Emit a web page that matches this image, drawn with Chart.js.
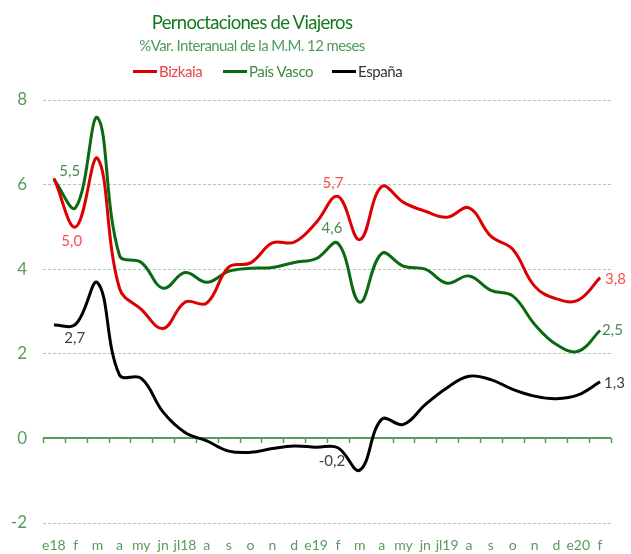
<!DOCTYPE html>
<html>
<head>
<meta charset="utf-8">
<script src="https://cdn.jsdelivr.net/npm/chart.js@4/dist/chart.umd.min.js"></script>
<style>
  body { margin: 0; background: #fff; }
  #wrap { position: relative; width: 631px; height: 554px; font-family: Lato, sans-serif; }
  #chart { position: absolute; left: 0; top: 0; }
  .hd { position: absolute; white-space: nowrap; transform: translateX(-50%); }
  #title { left: 252px; top: 11px; font-size: 18.5px; color: #137a1e; letter-spacing: -0.7px; }
  #subtitle { left: 252px; top: 36px; font-size: 15px; color: #4f9a5a; letter-spacing: -0.6px; }
  .lg { position: absolute; top: 62px; font-size: 15px; letter-spacing: -0.4px; white-space: nowrap; }
  .lg i { display: inline-block; width: 24px; height: 3px; margin-right: 2px; vertical-align: 4px; }
</style>
</head>
<body>
<div id="wrap">
  <canvas id="chart" width="631" height="554"></canvas>
  <div class="hd" id="title">Pernoctaciones de Viajeros</div>
  <div class="hd" id="subtitle">%Var. Interanual de la M.M. 12 meses</div>
  <div class="lg" style="left:133px;color:#e84545"><i style="background:#dd0000"></i>Bizkaia</div>
  <div class="lg" style="left:223px;color:#3f8a45"><i style="background:#0a6a12"></i>País Vasco</div>
  <div class="lg" style="left:332px;color:#333"><i style="background:#000"></i>España</div>
</div>
<script>
const months = ['e18','f','m','a','my','jn','jl18','a','s','o','n','d','e19','f','m','a','my','jn','jl19','a','s','o','n','d','e20','f'];

const bizkaia = [6.15, 5.0, 6.62, 3.55, 3.05, 2.6, 3.22, 3.2, 4.05, 4.15, 4.62, 4.64, 5.1, 5.72, 4.7, 5.95, 5.58, 5.37, 5.23, 5.45, 4.78, 4.47, 3.6, 3.3, 3.27, 3.8];
const paisVasco = [6.12, 5.46, 7.58, 4.33, 4.16, 3.55, 3.92, 3.69, 3.95, 4.02, 4.04, 4.16, 4.25, 4.61, 3.22, 4.37, 4.07, 4.0, 3.67, 3.84, 3.5, 3.37, 2.7, 2.22, 2.06, 2.55];
const espana = [2.68, 2.7, 3.68, 1.5, 1.42, 0.62, 0.14, -0.06, -0.3, -0.33, -0.24, -0.18, -0.21, -0.22, -0.75, 0.45, 0.33, 0.8, 1.2, 1.47, 1.39, 1.16, 1.0, 0.94, 1.03, 1.34];

// etiquetas de valor: serie, indice, texto
const valueLabels = [
  { ds: 1, i: 1, text: '5,5', dx: -6, dy: -36, color: '#4a8a50', align: 'center' },
  { ds: 0, i: 1, text: '5,0', dx: -4, dy: 14, color: '#ff4d4d', align: 'center' },
  { ds: 2, i: 1, text: '2,7', dx: -1, dy: 14, color: '#404040', align: 'center' },
  { ds: 0, i: 13, text: '5,7', dx: -5, dy: -13, color: '#ff4d4d', align: 'center' },
  { ds: 1, i: 13, text: '4,6', dx: -6, dy: -15, color: '#4a8a50', align: 'center' },
  { ds: 2, i: 13, text: '-0,2', dx: -6, dy: 13, color: '#404040', align: 'center' },
  { ds: 0, i: 25, text: '3,8', dx: 5, dy: 1, color: '#ff4d4d', align: 'left' },
  { ds: 1, i: 25, text: '2,5', dx: 2, dy: 0, color: '#4a8a50', align: 'left' },
  { ds: 2, i: 25, text: '1,3', dx: 4, dy: 1, color: '#404040', align: 'left' }
];

const axisGreen = '#5a9a5a';

// eje horizontal en el valor 0 con marcas entre categorias
const zeroAxisPlugin = {
  id: 'zeroAxis',
  beforeDatasetsDraw(chart) {
    const { ctx, chartArea, scales: { x, y } } = chart;
    const y0 = Math.round(y.getPixelForValue(0));
    const step = (chartArea.right - chartArea.left) / months.length;
    ctx.save();
    ctx.strokeStyle = axisGreen;
    ctx.lineWidth = 2;
    ctx.beginPath();
    ctx.moveTo(chartArea.left, y0);
    ctx.lineTo(chartArea.right, y0);
    ctx.stroke();
    ctx.lineWidth = 1.5;
    ctx.beginPath();
    for (let i = 0; i <= months.length; i++) {
      const px = Math.round(x.getPixelForValue(i) - step / 2) + 0.5;
      ctx.moveTo(px, y0);
      ctx.lineTo(px, y0 + 5);
    }
    ctx.stroke();
    ctx.restore();
  }
};

const labelPlugin = {
  id: 'valueLabels',
  afterDatasetsDraw(chart) {
    const ctx = chart.ctx;
    ctx.save();
    ctx.font = '15px Lato, sans-serif';
    ctx.textBaseline = 'middle';
    valueLabels.forEach(l => {
      const pt = chart.getDatasetMeta(l.ds).data[l.i];
      ctx.fillStyle = l.color;
      ctx.textAlign = l.align;
      ctx.fillText(l.text, pt.x + l.dx, pt.y + l.dy);
    });
    ctx.restore();
  }
};

const line = (label, data, color) => ({
  label, data, borderColor: color, backgroundColor: color,
  borderWidth: 3, pointRadius: 0, tension: 0.4, cubicInterpolationMode: 'default'
});

new Chart(document.getElementById('chart'), {
  type: 'line',
  data: {
    labels: months,
    datasets: [
      line('Bizkaia', bizkaia, '#dd0000'),
      line('País Vasco', paisVasco, '#0a6a12'),
      line('España', espana, '#000000')
    ]
  },
  options: {
    responsive: false,
    animation: false,
    layout: { padding: { top: 100, left: 10, right: 20, bottom: 0 } },
    plugins: { legend: { display: false }, tooltip: { enabled: false } },
    scales: {
      x: {
        offset: true,
        grid: { display: false, drawTicks: false },
        border: { display: false },
        ticks: { color: axisGreen, font: { family: 'Lato', size: 14 }, padding: 14, maxRotation: 0, autoSkip: false },
        afterFit: s => { s.height = 31; }
      },
      y: {
        min: -2, max: 8,
        ticks: { stepSize: 2, color: axisGreen, font: { family: 'Lato', size: 17 }, padding: 16 },
        grid: {
          drawTicks: false,
          color: c => c.tick.value === 0 ? 'rgba(0,0,0,0)' : '#a9cfa9',
          lineWidth: 1
        },
        border: { display: false, dash: [3, 2] },
        afterFit: s => { s.width = 33; }
      }
    }
  },
  plugins: [zeroAxisPlugin, labelPlugin]
});
</script>
</body>
</html>
